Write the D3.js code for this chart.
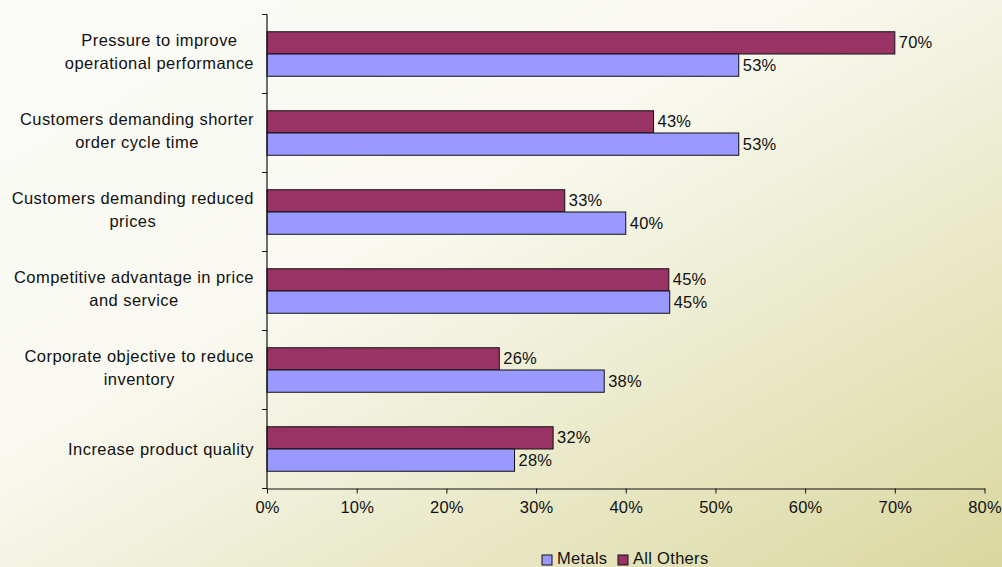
<!DOCTYPE html>
<html>
<head>
<meta charset="utf-8">
<script src="https://cdn.jsdelivr.net/npm/d3@7"></script>
<style>
  body { margin: 0; padding: 0; overflow: hidden; }
  svg { display: block; font-family: "Liberation Sans", Arial, sans-serif; }
</style>
</head>
<body>
<svg id="chart" width="1002" height="567"></svg>
<script>
// categories, top to bottom, split into the label lines
var categories = [
    ["Pressure to improve", "operational performance"],
    ["Customers demanding shorter", "order cycle time"],
    ["Customers demanding reduced", "prices"],
    ["Competitive advantage in price", "and service"],
    ["Corporate objective to reduce", "inventory"],
    ["Increase product quality"]
];

// series values
var allOthers = [0.700, 0.431, 0.332, 0.448, 0.259, 0.319];
var metals    = [0.526, 0.526, 0.400, 0.449, 0.376, 0.276];

// value labels as printed
var allOthersLabels = ["70%", "43%", "33%", "45%", "26%", "32%"];
var metalsLabels    = ["53%", "53%", "40%", "45%", "38%", "28%"];

var xTicks = [0, 0.1, 0.2, 0.3, 0.4, 0.5, 0.6, 0.7, 0.8];

var seriesNames = ["All Others", "Metals"];
var colors = {"All Others": "#993366", "Metals": "#9999ff"};

var svg = d3.select('#chart');
var W = 1002, H = 567;

// background gradient
var defs = svg.append('defs');
var grad = defs.append('linearGradient')
    .attr('id', 'bg')
    .attr('x1', '0%').attr('y1', '0%')
    .attr('x2', '100%').attr('y2', '100%');
grad.append('stop').attr('offset', '0%').attr('stop-color', '#fbfbf8');
grad.append('stop').attr('offset', '40%').attr('stop-color', '#f9f9f1');
grad.append('stop').attr('offset', '100%').attr('stop-color', '#d9d89f');
svg.append('rect').attr('width', W).attr('height', H).attr('fill', 'url(#bg)');

// plot area edges (note: "top" is reserved on window)
var mLeft = 267, mRight = 984.5, mTop = 14.5, mBottom = 488.5;

var x = d3.scaleLinear().domain([0, 0.8]).range([mLeft, mRight]);

var idx = d3.range(categories.length);
var y0 = d3.scaleBand().domain(idx).range([mTop, mBottom]).padding(0);
var groupH = 44.5;
var y1 = d3.scaleBand().domain(seriesNames).range([0, groupH]);

var rows = idx.map(function (i) {
    return [
        {series: "All Others", value: allOthers[i], label: allOthersLabels[i], i: i},
        {series: "Metals", value: metals[i], label: metalsLabels[i], i: i}
    ];
});

var g = svg.append('g');

var groups = g.selectAll('g.cat')
    .data(rows)
    .enter()
    .append('g')
    .attr('class', 'cat')
    .attr('transform', function (d, i) {
        return 'translate(0,' + (y0(i) + (y0.bandwidth() - groupH) / 2) + ')';
    });

groups.selectAll('rect')
    .data(function (d) { return d; })
    .enter()
    .append('rect')
    .attr('x', x(0))
    .attr('y', function (d) { return y1(d.series); })
    .attr('width', function (d) { return x(d.value) - x(0); })
    .attr('height', y1.bandwidth())
    .attr('fill', function (d) { return colors[d.series]; })
    .attr('stroke', '#111')
    .attr('stroke-width', 1);

groups.selectAll('text.val')
    .data(function (d) { return d; })
    .enter()
    .append('text')
    .attr('class', 'val')
    .attr('x', function (d) { return x(d.value) + 4; })
    .attr('y', function (d) { return y1(d.series) + y1.bandwidth() / 2 + 5.5; })
    .style('font-size', '16.5px')
    .style('letter-spacing', '0.2px')
    .attr('fill', '#111')
    .text(function (d) { return d.label; });

// x axis
var xAxis = d3.axisBottom(x)
    .tickValues(xTicks)
    .tickFormat(d3.format('.0%'))
    .tickSize(5)
    .tickSizeOuter(0);

var xg = svg.append('g')
    .attr('transform', 'translate(0,' + mBottom + ')')
    .call(xAxis);
xg.select('.domain').attr('stroke', '#111').attr('stroke-width', 1.2);
xg.selectAll('.tick line').attr('stroke', '#111');
xg.selectAll('.tick text')
    .attr('y', 24)
    .attr('dy', 0)
    .style('font-size', '16.5px')
    .style('letter-spacing', '0.2px')
    .style('font-family', '"Liberation Sans", Arial, sans-serif')
    .attr('fill', '#111');

// y axis line and tick marks at category boundaries
svg.append('line')
    .attr('x1', mLeft).attr('x2', mLeft)
    .attr('y1', mTop).attr('y2', mBottom)
    .attr('stroke', '#111').attr('stroke-width', 1.2);

var bounds = idx.map(function (i) { return y0(i); }).concat([mBottom]);
svg.selectAll('line.ytick')
    .data(bounds)
    .enter()
    .append('line')
    .attr('class', 'ytick')
    .attr('x1', mLeft - 5).attr('x2', mLeft)
    .attr('y1', function (d) { return d; })
    .attr('y2', function (d) { return d; })
    .attr('stroke', '#111');

// category labels: lines centered on each other, block right-aligned
var labelRight = 254;
idx.forEach(function (i) {
    var lines = categories[i];
    var cy = y0(i) + y0.bandwidth() / 2;
    var t = svg.append('text')
        .style('font-size', '16.5px')
        .style('letter-spacing', '0.45px')
        .attr('fill', '#111')
        .attr('text-anchor', 'middle');
    var firstY = lines.length === 1 ? cy + 6 : cy - 8;
    lines.forEach(function (line, k) {
        t.append('tspan')
            .attr('y', firstY + k * 23)
            .text(line);
    });
    var maxW = 0;
    t.selectAll('tspan').each(function () {
        maxW = Math.max(maxW, this.getComputedTextLength());
    });
    t.selectAll('tspan').attr('x', labelRight - maxW / 2);
});

// legend
var legendItems = ["Metals", "All Others"];
var legendX = [542, 618];
var legend = svg.selectAll('g.legend')
    .data(legendItems)
    .enter()
    .append('g')
    .attr('class', 'legend')
    .attr('transform', function (d, i) { return 'translate(' + legendX[i] + ',555)'; });
legend.append('rect')
    .attr('width', 10).attr('height', 10)
    .attr('fill', function (d) { return colors[d]; })
    .attr('stroke', '#111');
legend.append('text')
    .attr('x', 15)
    .attr('y', 9)
    .style('font-size', '16.5px')
    .style('letter-spacing', '0.3px')
    .attr('fill', '#111')
    .text(function (d) { return d; });
</script>
</body>
</html>
